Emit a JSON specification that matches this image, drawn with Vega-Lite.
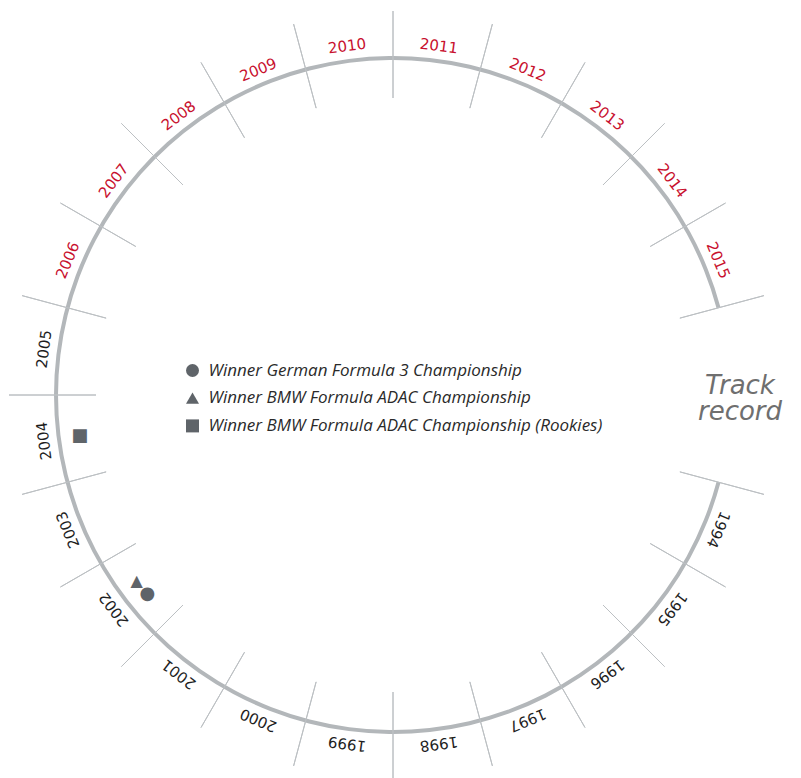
{
  "$schema": "https://vega.github.io/schema/vega-lite/v6.json",
  "width": 786,
  "height": 766,
  "autosize": "none",
  "padding": {"left": 0, "top": 12, "right": 15, "bottom": 0},
  "background": "white",
  "config": {"view": {"stroke": null}},
  "datasets": {
    "years": [
      {"year": 1994, "label": "1994", "era": "1994-2005"},
      {"year": 1995, "label": "1995", "era": "1994-2005"},
      {"year": 1996, "label": "1996", "era": "1994-2005"},
      {"year": 1997, "label": "1997", "era": "1994-2005"},
      {"year": 1998, "label": "1998", "era": "1994-2005"},
      {"year": 1999, "label": "1999", "era": "1994-2005"},
      {"year": 2000, "label": "2000", "era": "1994-2005"},
      {"year": 2001, "label": "2001", "era": "1994-2005"},
      {"year": 2002, "label": "2002", "era": "1994-2005"},
      {"year": 2003, "label": "2003", "era": "1994-2005"},
      {"year": 2004, "label": "2004", "era": "1994-2005"},
      {"year": 2005, "label": "2005", "era": "1994-2005"},
      {"year": 2006, "label": "2006", "era": "2006-2015"},
      {"year": 2007, "label": "2007", "era": "2006-2015"},
      {"year": 2008, "label": "2008", "era": "2006-2015"},
      {"year": 2009, "label": "2009", "era": "2006-2015"},
      {"year": 2010, "label": "2010", "era": "2006-2015"},
      {"year": 2011, "label": "2011", "era": "2006-2015"},
      {"year": 2012, "label": "2012", "era": "2006-2015"},
      {"year": 2013, "label": "2013", "era": "2006-2015"},
      {"year": 2014, "label": "2014", "era": "2006-2015"},
      {"year": 2015, "label": "2015", "era": "2006-2015"}
    ],
    "bounds": [
      {"b": 1993.5}, {"b": 1994.5}, {"b": 1995.5}, {"b": 1996.5}, {"b": 1997.5}, {"b": 1998.5},
      {"b": 1999.5}, {"b": 2000.5}, {"b": 2001.5}, {"b": 2002.5}, {"b": 2003.5}, {"b": 2004.5},
      {"b": 2005.5}, {"b": 2006.5}, {"b": 2007.5}, {"b": 2008.5}, {"b": 2009.5}, {"b": 2010.5},
      {"b": 2011.5}, {"b": 2012.5}, {"b": 2013.5}, {"b": 2014.5}, {"b": 2015.5}
    ],
    "ring": [{"from": 1993.5, "to": 2015.5}],
    "wins": [
      {"year": 2002, "pos": 2001.9, "category": "Winner German Formula 3 Championship"},
      {"year": 2002, "pos": 2002.1, "category": "Winner BMW Formula ADAC Championship"},
      {"year": 2004, "pos": 2004.0, "category": "Winner BMW Formula ADAC Championship (Rookies)"}
    ],
    "title": [{"text": "Track\nrecord", "pos": 2016.5}]
  },
  "layer": [
    {
      "data": {"name": "ring"},
      "mark": {"type": "arc", "innerRadius": 335, "outerRadius": 339, "color": "#b3b7ba"},
      "encoding": {
        "theta": {"field": "from", "type": "quantitative", "stack": null, "scale": {"domain": [1993.5, 2015.5], "range": [1.8325957, 7.5921822], "nice": false, "zero": false}},
        "theta2": {"field": "to"}
      }
    },
    {
      "data": {"name": "bounds"},
      "mark": {"type": "arc", "innerRadius": 297, "outerRadius": 384, "filled": false, "color": "#bcc0c3", "strokeWidth": 1},
      "encoding": {
        "theta": {"field": "b", "type": "quantitative", "stack": null, "scale": {"domain": [1993.5, 2015.5], "range": [1.8325957, 7.5921822], "nice": false, "zero": false}},
        "theta2": {"field": "b"}
      }
    },
    {
      "data": {"name": "years"},
      "mark": {"type": "text", "radius": 352, "font": "DejaVu Sans", "fontSize": 15, "align": "center", "baseline": "middle"},
      "encoding": {
        "theta": {"field": "year", "type": "quantitative", "stack": null, "scale": {"domain": [1993.5, 2015.5], "range": [1.8325957, 7.5921822], "nice": false, "zero": false}},
        "angle": {"field": "year", "type": "quantitative", "scale": {"domain": [1993.5, 2015.5], "range": [105, 435], "nice": false, "zero": false}},
        "text": {"field": "label"},
        "color": {"field": "era", "type": "nominal", "scale": {"domain": ["1994-2005", "2006-2015"], "range": ["#1e1e1e", "#c8102e"]}, "legend": null}
      }
    },
    {
      "data": {"name": "title"},
      "mark": {"type": "text", "radius": 347, "dy": -9, "font": "DejaVu Sans", "fontSize": 26, "fontStyle": "italic", "fontWeight": 200, "align": "center", "baseline": "middle", "lineBreak": "\n", "lineHeight": 26, "color": "#6f6f6f"},
      "encoding": {
        "theta": {"field": "pos", "type": "quantitative", "stack": null, "scale": {"domain": [1993.5, 2015.5], "range": [1.8325957, 7.5921822], "nice": false, "zero": false}},
        "text": {"field": "text"}
      }
    },
    {
      "data": {"name": "wins"},
      "transform": [{"filter": "datum.category === 'Winner German Formula 3 Championship'"}],
      "mark": {"type": "text", "text": "●", "radius": 316, "font": "DejaVu Sans", "fontSize": 18, "align": "center", "baseline": "middle", "color": "#5f6469"},
      "encoding": {
        "theta": {"field": "pos", "type": "quantitative", "stack": null, "scale": {"domain": [1993.5, 2015.5], "range": [1.8325957, 7.5921822], "nice": false, "zero": false}}
      }
    },
    {
      "data": {"name": "wins"},
      "transform": [{"filter": "datum.category === 'Winner BMW Formula ADAC Championship'"}],
      "mark": {"type": "text", "text": "▲", "radius": 317, "font": "DejaVu Sans", "fontSize": 16, "align": "center", "baseline": "middle", "color": "#5f6469"},
      "encoding": {
        "theta": {"field": "pos", "type": "quantitative", "stack": null, "scale": {"domain": [1993.5, 2015.5], "range": [1.8325957, 7.5921822], "nice": false, "zero": false}}
      }
    },
    {
      "data": {"name": "wins"},
      "transform": [{"filter": "datum.category === 'Winner BMW Formula ADAC Championship (Rookies)'"}],
      "mark": {"type": "text", "text": "■", "radius": 316, "font": "DejaVu Sans", "fontSize": 18, "align": "center", "baseline": "middle", "color": "#5f6469"},
      "encoding": {
        "theta": {"field": "pos", "type": "quantitative", "stack": null, "scale": {"domain": [1993.5, 2015.5], "range": [1.8325957, 7.5921822], "nice": false, "zero": false}}
      }
    },
    {
      "data": {"name": "wins"},
      "mark": {"type": "point", "filled": true, "opacity": 0, "color": "#5f6469", "size": 169},
      "encoding": {
        "shape": {
          "field": "category",
          "type": "nominal",
          "scale": {
            "domain": ["Winner German Formula 3 Championship", "Winner BMW Formula ADAC Championship", "Winner BMW Formula ADAC Championship (Rookies)"],
            "range": ["circle", "triangle-up", "square"]
          },
          "legend": {
            "orient": "none",
            "legendX": 184,
            "legendY": 350,
            "title": null,
            "labelFont": "Open Sans",
            "labelFontStyle": "italic",
            "labelFontSize": 17,
            "labelColor": "#2a2a2a",
            "labelLimit": 600,
            "labelOffset": 7.5,
            "rowPadding": 9.7,
            "symbolSize": 169,
            "symbolOpacity": 1,
            "symbolFillColor": "#5f6469",
            "symbolStrokeColor": "#5f6469",
            "symbolStrokeWidth": 0
          }
        }
      }
    }
  ]
}
